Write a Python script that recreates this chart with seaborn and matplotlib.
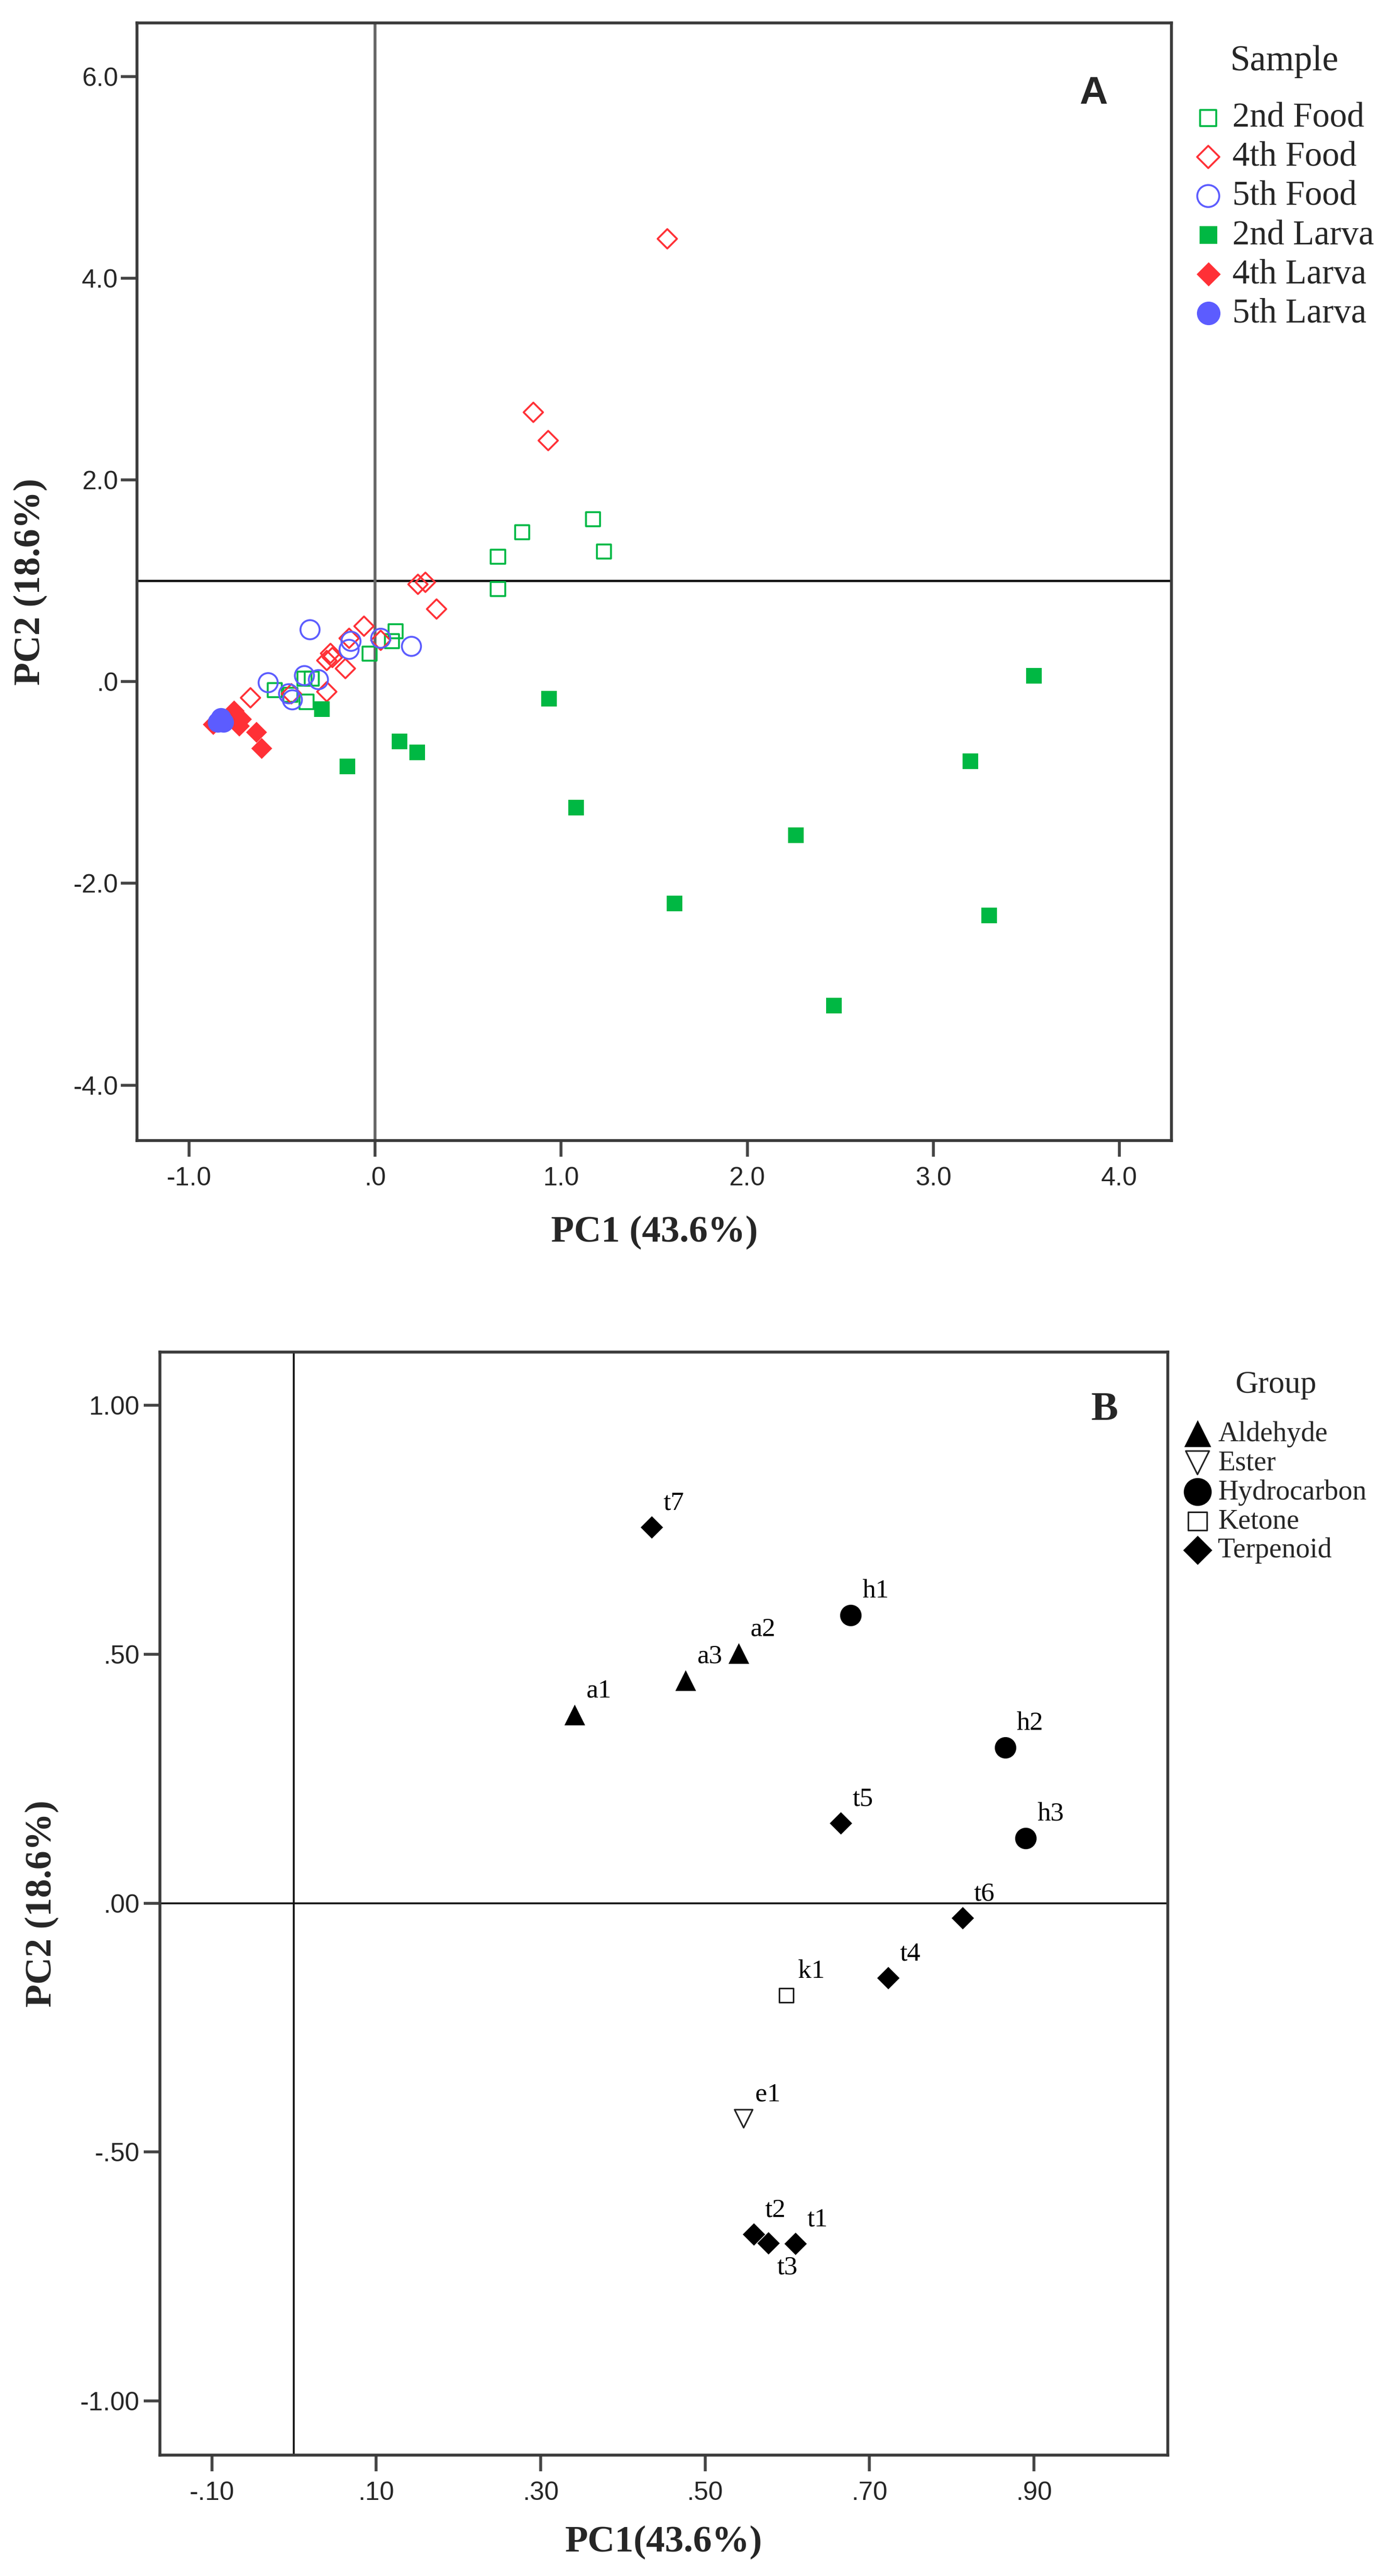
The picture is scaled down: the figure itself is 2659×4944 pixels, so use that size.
import numpy as np
import pandas as pd
import seaborn as sns
import matplotlib.pyplot as plt

# ---------------- panel A : sample scores ----------------
food2_x = [0.66, 0.79, 1.17, 1.23, 0.66, 0.11, 0.09, -0.03, -0.38, -0.34, -0.54, -0.37, -0.455]
food2_y = [1.24, 1.48, 1.61, 1.29, 0.92, 0.50, 0.40, 0.28, 0.03, 0.03, -0.085, -0.20, -0.13]

food4_x = [1.57, 0.85, 0.93, 0.23, 0.27, 0.33, -0.06, -0.14, 0.03, -0.24, -0.26, -0.23, -0.16, -0.26, -0.67, -0.45]
food4_y = [4.39, 2.67, 2.39, 0.965, 0.985, 0.72, 0.55, 0.43, 0.41, 0.28, 0.21, 0.24, 0.13, -0.10, -0.16, -0.12]

food5_x = [-0.35, -0.13, -0.14, 0.03, 0.195, -0.575, -0.38, -0.305, -0.465, -0.445]
food5_y = [0.515, 0.40, 0.32, 0.43, 0.35, -0.01, 0.06, 0.02, -0.12, -0.18]

larva2_x = [-0.285, -0.15, 0.13, 0.225, 0.935, 1.08, 1.61, 2.26, 2.465, 3.20, 3.30, 3.54]
larva2_y = [-0.27, -0.84, -0.59, -0.70, -0.17, -1.25, -2.20, -1.52, -3.21, -0.79, -2.32, 0.06]

larva4_x = [-0.87, -0.76, -0.72, -0.73, -0.64, -0.61]
larva4_y = [-0.42, -0.29, -0.37, -0.44, -0.50, -0.66]

larva5_x = [-0.845, -0.815, -0.83]
larva5_y = [-0.40, -0.40, -0.36]

sample_names = ["2nd Food", "4th Food", "5th Food", "2nd Larva", "4th Larva", "5th Larva"]
a_xticks = [-1.0, 0.0, 1.0, 2.0, 3.0, 4.0]
a_xticklabels = ["-1.0", ".0", "1.0", "2.0", "3.0", "4.0"]
a_yticks = [-4.0, -2.0, 0.0, 2.0, 4.0, 6.0]
a_yticklabels = ["-4.0", "-2.0", ".0", "2.0", "4.0", "6.0"]

# ---------------- panel B : loadings ----------------
var_names = ["a1", "a2", "a3", "e1", "h1", "h2", "h3", "k1",
             "t1", "t2", "t3", "t4", "t5", "t6", "t7"]
var_group = ["Aldehyde", "Aldehyde", "Aldehyde", "Ester", "Hydrocarbon", "Hydrocarbon", "Hydrocarbon", "Ketone",
             "Terpenoid", "Terpenoid", "Terpenoid", "Terpenoid", "Terpenoid", "Terpenoid", "Terpenoid"]
load_pc1 = [0.341, 0.541, 0.476, 0.547, 0.677, 0.865, 0.890, 0.599,
            0.610, 0.559, 0.577, 0.723, 0.665, 0.813, 0.435]
load_pc2 = [0.379, 0.502, 0.448, -0.433, 0.579, 0.313, 0.130, -0.185,
            -0.684, -0.665, -0.683, -0.150, 0.161, -0.030, 0.755]
group_names = ["Aldehyde", "Ester", "Hydrocarbon", "Ketone", "Terpenoid"]
b_xticks = [-0.10, 0.10, 0.30, 0.50, 0.70, 0.90]
b_xticklabels = ["-.10", ".10", ".30", ".50", ".70", ".90"]
b_yticks = [-1.0, -0.5, 0.0, 0.5, 1.0]
b_yticklabels = ["-1.00", "-.50", ".00", ".50", "1.00"]

sns.set_theme(style="white")
plt.rcParams["font.family"] = ["Liberation Serif", "DejaVu Serif"]
plt.rcParams["axes.edgecolor"] = "#3a3a3a"

GREEN, RED, BLUE = "#00b843", "#ff3036", "#5c5cff"

fig = plt.figure(figsize=(26.59, 49.44), dpi=100)


def style_axes(ax):
    for s in ax.spines.values():
        s.set_linewidth(4)
        s.set_color("#3a3a3a")
    ax.tick_params(axis="both", which="major", direction="out", length=22, width=4,
                   color="#444444", left=True, bottom=True)
    for lab in ax.get_xticklabels() + ax.get_yticklabels():
        lab.set_family(["Liberation Sans", "DejaVu Sans"])
        lab.set_fontsize(36)


# ================= panel A =================
axA = fig.add_axes([0.0989, 0.5572, 0.747, 0.4339])

a_styles = [
    ("2nd Food", food2_x, food2_y, "s", GREEN, False, 380),
    ("4th Food", food4_x, food4_y, "D", RED, False, 360),
    ("5th Food", food5_x, food5_y, "o", BLUE, False, 700),
    ("2nd Larva", larva2_x, larva2_y, "s", GREEN, True, 470),
    ("4th Larva", larva4_x, larva4_y, "D", RED, True, 420),
    ("5th Larva", larva5_x, larva5_y, "o", BLUE, True, 800),
]
for name, xs, ys, mk, col, filled, size in a_styles:
    df = pd.DataFrame({"PC1": xs, "PC2": ys})
    if filled:
        sns.scatterplot(data=df, x="PC1", y="PC2", ax=axA, marker=mk, s=size,
                        color=col, edgecolor=col, linewidth=0, label=name, zorder=3)
    else:
        sns.scatterplot(data=df, x="PC1", y="PC2", ax=axA, marker=mk, s=size,
                        color=col, facecolor="none", edgecolor=col, linewidth=2.6,
                        label=name, zorder=3)

axA.axhline(1.0, color="#111111", lw=3.2, zorder=1)
axA.axvline(0.0, color="#666666", lw=4, zorder=1)
axA.set_xlim(-1.28, 4.28)
axA.set_ylim(-4.55, 6.53)
axA.set_xticks(a_xticks, a_xticklabels)
axA.set_yticks(a_yticks, a_yticklabels)
style_axes(axA)
axA.tick_params(axis="x", pad=14)
axA.tick_params(axis="y", pad=4)
axA.set_xlabel("PC1 (43.6%)", fontsize=52, fontweight="bold")
axA.set_ylabel("PC2 (18.6%)", fontsize=52, fontweight="bold")
axA.xaxis.set_label_coords(0.5, -0.082)
axA.xaxis.label.set_va("center")
axA.yaxis.set_label_coords(-0.103, 0.5)
axA.yaxis.label.set_va("center")
axA.text(3.86, 5.83, "A", fontsize=54, fontweight="bold", ha="center", va="center",
         family=["Liberation Sans", "DejaVu Sans"])

legA = axA.legend(title="Sample", loc="upper left", bbox_to_anchor=(2293 / 2659, 1 - 86 / 4944),
                  bbox_transform=fig.transFigure, frameon=False, fontsize=48,
                  title_fontsize=50, handlelength=0.8, handletextpad=0.3,
                  labelspacing=0.21, borderpad=0, borderaxespad=0, markerscale=1.15)
legA._legend_box.sep = 34

# ================= panel B =================
axB = fig.add_axes([0.1155, 0.0469, 0.7277, 0.4282])
dfB = pd.DataFrame({"name": var_names, "group": var_group, "PC1": load_pc1, "PC2": load_pc2})

b_styles = {
    "Aldehyde": ("^", True, 820),
    "Ester": ("v", False, 620),
    "Hydrocarbon": ("o", True, 880),
    "Ketone": ("s", False, 380),
    "Terpenoid": ("D", True, 480),
}
for g in group_names:
    mk, filled, size = b_styles[g]
    sub = dfB[dfB["group"] == g]
    if filled:
        sns.scatterplot(data=sub, x="PC1", y="PC2", ax=axB, marker=mk, s=size,
                        color="black", edgecolor="black", linewidth=0, label=g, zorder=3)
    else:
        sns.scatterplot(data=sub, x="PC1", y="PC2", ax=axB, marker=mk, s=size,
                        color="black", facecolor="none", edgecolor="#222222", linewidth=2.2,
                        label=g, zorder=3)

for nm, px, py in zip(dfB["name"], dfB["PC1"], dfB["PC2"]):
    off = (12, -34) if nm == "t3" else (16, 33)
    axB.annotate(nm, (px, py), xytext=off, textcoords="offset points",
                 ha="left", va="center", fontsize=37, color="black")

axB.axhline(0.0, color="#111111", lw=2.6, zorder=1)
axB.axvline(0.0, color="#111111", lw=2.6, zorder=1)
axB.set_xlim(-0.163, 1.063)
axB.set_ylim(-1.109, 1.107)
axB.set_xticks(b_xticks, b_xticklabels)
axB.set_yticks(b_yticks, b_yticklabels)
style_axes(axB)
axB.tick_params(axis="x", pad=14)
axB.tick_params(axis="y", pad=6)
axB.set_xlabel("PC1(43.6%)", fontsize=52, fontweight="bold")
axB.set_ylabel("PC2 (18.6%)", fontsize=52, fontweight="bold")
axB.xaxis.set_label_coords(0.5, -0.079)
axB.xaxis.label.set_va("center")
axB.yaxis.set_label_coords(-0.117, 0.5)
axB.yaxis.label.set_va("center")
axB.text(0.986, 0.99, "B", fontsize=56, fontweight="bold", ha="center", va="center")

legB = axB.legend(title="Group", loc="upper left", bbox_to_anchor=(2276 / 2659, 1 - 2630 / 4944),
                  bbox_transform=fig.transFigure, frameon=False, fontsize=39,
                  title_fontsize=44, handlelength=0.85, handletextpad=0.3,
                  labelspacing=0.1, borderpad=0, borderaxespad=0, markerscale=1.3)
legB._legend_box.sep = 30

fig.savefig("out.png", dpi=100, facecolor="white")
